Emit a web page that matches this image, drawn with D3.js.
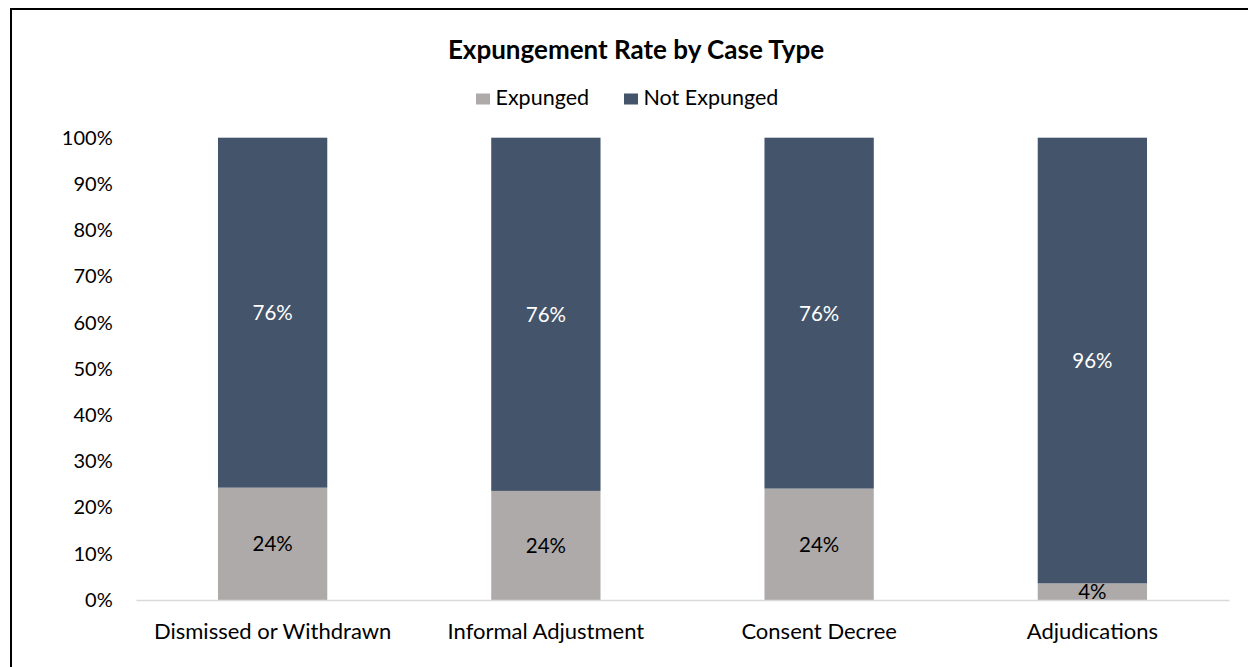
<!DOCTYPE html>
<html>
<head>
<meta charset="utf-8">
<script src="https://cdn.jsdelivr.net/npm/d3@7"></script>
<style>
body { margin: 0; background: #ffffff; }
svg { display: block; }
text { font-family: Lato, "Open Sans", sans-serif; fill: #000000; }
</style>
</head>
<body>
<script>
var categories = ["Dismissed or Withdrawn", "Informal Adjustment", "Consent Decree", "Adjudications"];
var expunged = [0.243, 0.236, 0.241, 0.036];
var notExpunged = [0.757, 0.764, 0.759, 0.964];
var seriesNames = ["Expunged", "Not Expunged"];
var seriesColors = ["#aeaaaa", "#44546a"];
var labelColors = ["#000000", "#ffffff"];
var yTicks = [0, 0.1, 0.2, 0.3, 0.4, 0.5, 0.6, 0.7, 0.8, 0.9, 1];

var svg = d3.select("body")
	.append("svg")
	.attr("width", 1248)
	.attr("height", 667);

svg.append("rect")
	.attr("width", 1248)
	.attr("height", 667)
	.attr("fill", "#ffffff");

// chart border (only left and top fall inside the window)
svg.append("rect")
	.attr("x", 11)
	.attr("y", 9)
	.attr("width", 1400)
	.attr("height", 800)
	.attr("fill", "none")
	.attr("stroke", "#000000")
	.attr("stroke-width", 2);

var rows = categories.map(function (c, i) {
	return { cat: c, "Expunged": expunged[i], "Not Expunged": notExpunged[i] };
});
var stacked = d3.stack().keys(seriesNames)(rows);

var x = d3.scaleBand()
	.domain(categories)
	.range([136, 1229])
	.paddingInner(0.6)
	.paddingOuter(0.3);
var y = d3.scaleLinear()
	.domain([0, 1])
	.range([600, 137.7]);

// title
svg.append("text")
	.attr("x", 636)
	.attr("y", 58.5)
	.attr("text-anchor", "middle")
	.style("font-size", "26px")
	.style("font-weight", "bold")
	.text("Expungement Rate by Case Type");

// legend
var legendX = [476, 624];
var legend = svg.selectAll(".legend")
	.data(seriesNames)
	.enter()
	.append("g")
	.attr("class", "legend")
	.attr("transform", function (d, i) { return "translate(" + legendX[i] + " 0)"; });
legend.append("rect")
	.attr("x", 0)
	.attr("y", 93.5)
	.attr("width", 14)
	.attr("height", 11)
	.attr("fill", function (d, i) { return seriesColors[i]; });
legend.append("text")
	.attr("x", 19.5)
	.attr("y", 105)
	.style("font-size", "21.5px")
	.text(function (d) { return d; });

// y axis labels
var yAxis = svg.append("g")
	.attr("transform", "translate(136 0)")
	.call(d3.axisLeft(y).tickValues(yTicks).tickFormat(d3.format(".0%")).tickSize(0).tickPadding(23.3));
yAxis.select(".domain").remove();
yAxis.selectAll("text")
	.style("font-family", "Lato, sans-serif")
	.style("font-size", "20px")
	.attr("fill", "#000000");

// bars
var layers = svg.selectAll(".layer")
	.data(stacked)
	.enter()
	.append("g")
	.attr("class", "layer")
	.attr("fill", function (d, i) { return seriesColors[i]; });
layers.selectAll("rect")
	.data(function (d) { return d; })
	.enter()
	.append("rect")
	.attr("x", function (d) { return x(d.data.cat); })
	.attr("y", function (d) { return y(d[1]); })
	.attr("width", x.bandwidth())
	.attr("height", function (d) { return y(d[0]) - y(d[1]); });

// data labels
layers.each(function (layer, li) {
	d3.select(this).selectAll("text")
		.data(layer)
		.enter()
		.append("text")
		.attr("x", function (d) { return x(d.data.cat) + x.bandwidth() / 2; })
		.attr("y", function (d) { return (y(d[0]) + y(d[1])) / 2; })
		.attr("dy", "0.36em")
		.attr("text-anchor", "middle")
		.style("font-size", "20.5px")
		.style("fill", labelColors[li])
		.text(function (d) { return d3.format(".0%")(d[1] - d[0]); });
});

// x axis
var xAxis = svg.append("g")
	.attr("transform", "translate(0 600)")
	.call(d3.axisBottom(x).tickSize(0).tickPadding(23.4));
xAxis.select(".domain")
	.attr("stroke", "#d9d9d9")
	.attr("stroke-width", 1.5);
xAxis.selectAll("text")
	.style("font-family", "Lato, sans-serif")
	.style("font-size", "22px")
	.attr("fill", "#000000");
</script>
</body>
</html>
